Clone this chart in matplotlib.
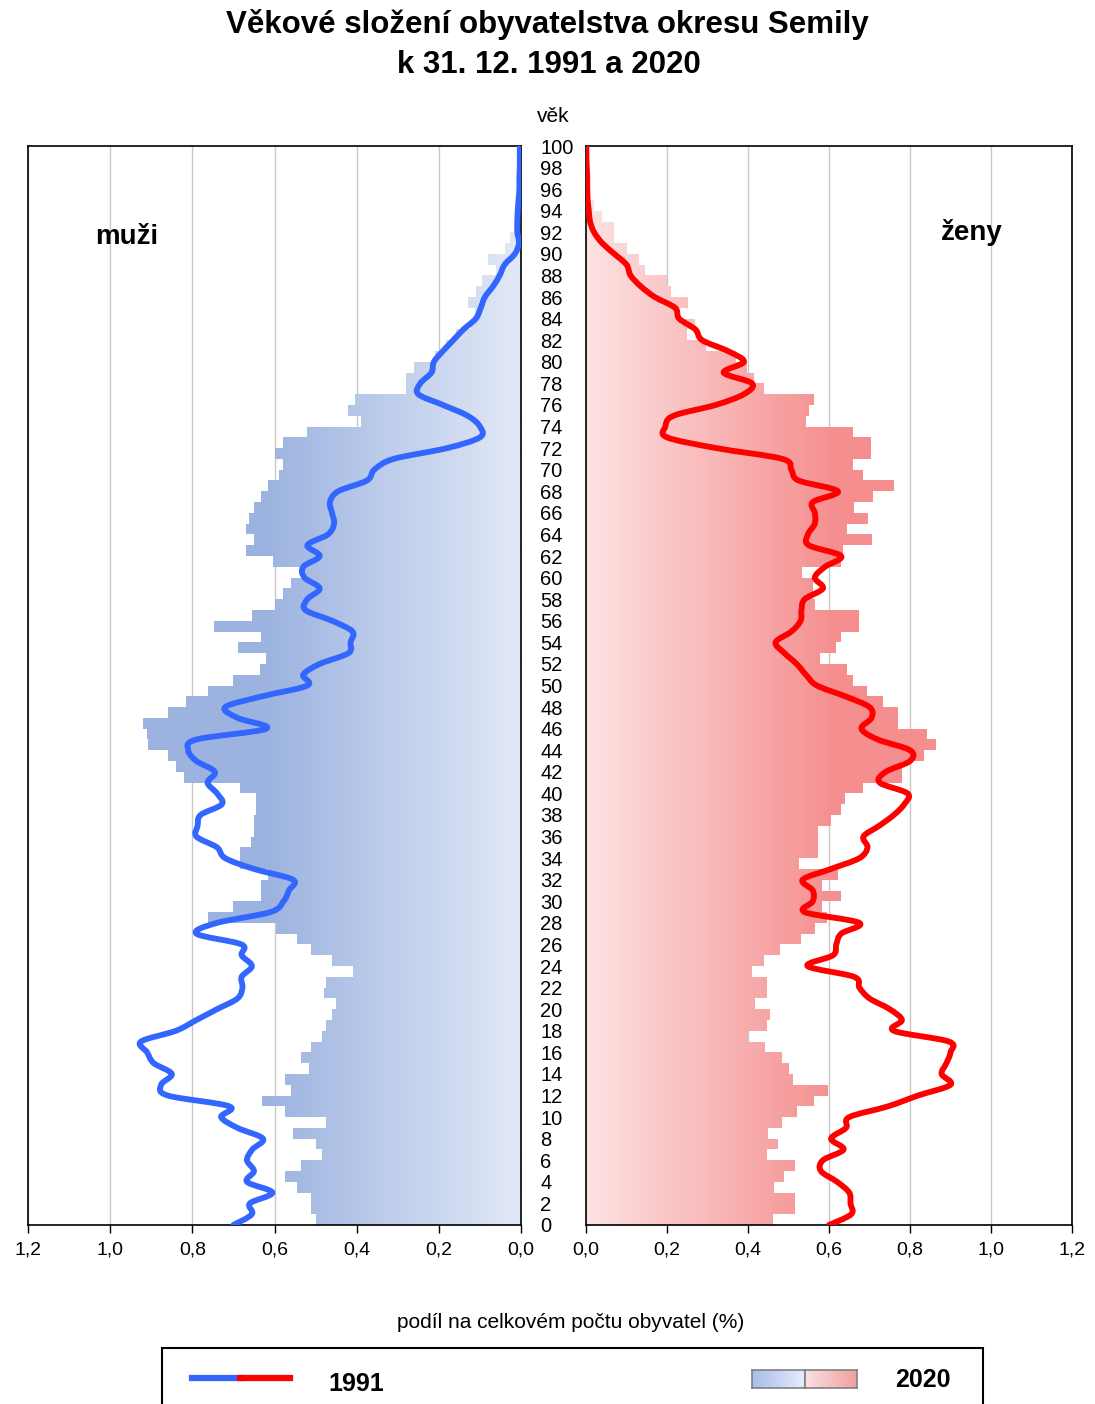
import numpy as np
import matplotlib
matplotlib.use("Agg")
import matplotlib.pyplot as plt
from matplotlib.path import Path
from matplotlib.patches import PathPatch, Rectangle
from matplotlib.colors import LinearSegmentedColormap
from matplotlib.lines import Line2D

plt.rcParams['font.family'] = ['Liberation Sans', 'DejaVu Sans']

# vek 0-99 (sloupec zabira interval [a, a+1]), krivka 1991 v bodech 0-100
ages_bar = list(range(100))
ages_line = list(range(101))

# 2020 - podil na celkovem poctu obyvatel (%)
muzi_2020 = [0.50, 0.51, 0.51, 0.545, 0.575, 0.535, 0.485, 0.50, 0.555, 0.475,
             0.575, 0.63, 0.56, 0.575, 0.515, 0.535, 0.51, 0.485, 0.475, 0.46,
             0.45, 0.48, 0.475, 0.41, 0.46, 0.51, 0.545, 0.597, 0.763, 0.70,
             0.632, 0.632, 0.615, 0.684, 0.684, 0.658, 0.65, 0.65, 0.645, 0.645,
             0.684, 0.82, 0.84, 0.86, 0.907, 0.91, 0.92, 0.86, 0.815, 0.763,
             0.70, 0.636, 0.62, 0.69, 0.632, 0.747, 0.654, 0.60, 0.58, 0.56,
             0.53, 0.604, 0.67, 0.65, 0.67, 0.663, 0.65, 0.632, 0.615, 0.59,
             0.58, 0.60, 0.58, 0.52, 0.39, 0.42, 0.405, 0.28, 0.28, 0.26,
             0.21, 0.183, 0.157, 0.122, 0.113, 0.128, 0.11, 0.096, 0.06, 0.08,
             0.04, 0.026, 0.013, 0.01, 0.008, 0.006, 0.005, 0.004, 0.003, 0.002]

zeny_2020 = [0.462, 0.515, 0.515, 0.465, 0.49, 0.515, 0.446, 0.474, 0.45, 0.485,
             0.52, 0.562, 0.598, 0.51, 0.50, 0.485, 0.441, 0.40, 0.446, 0.455,
             0.417, 0.446, 0.446, 0.41, 0.44, 0.48, 0.53, 0.565, 0.596, 0.582,
             0.63, 0.582, 0.622, 0.525, 0.574, 0.574, 0.574, 0.605, 0.63, 0.64,
             0.684, 0.78, 0.78, 0.834, 0.865, 0.843, 0.77, 0.77, 0.733, 0.693,
             0.66, 0.644, 0.578, 0.618, 0.63, 0.673, 0.673, 0.565, 0.56, 0.56,
             0.534, 0.63, 0.635, 0.706, 0.644, 0.697, 0.662, 0.709, 0.76, 0.684,
             0.66, 0.703, 0.703, 0.66, 0.543, 0.55, 0.562, 0.44, 0.415, 0.397,
             0.37, 0.296, 0.25, 0.27, 0.23, 0.253, 0.21, 0.20, 0.146, 0.13,
             0.10, 0.07, 0.07, 0.04, 0.02, 0.012, 0.008, 0.005, 0.003, 0.002]

# 1991
muzi_1991 = [0.70, 0.655, 0.66, 0.605, 0.667, 0.65, 0.667, 0.654, 0.628, 0.69,
             0.73, 0.71, 0.86, 0.876, 0.85, 0.894, 0.91, 0.925, 0.84, 0.79,
             0.74, 0.69, 0.678, 0.68, 0.655, 0.68, 0.68, 0.79, 0.74, 0.61,
             0.578, 0.565, 0.555, 0.65, 0.72, 0.74, 0.79, 0.787, 0.78, 0.728,
             0.74, 0.763, 0.745, 0.79, 0.81, 0.79, 0.62, 0.69, 0.72, 0.63,
             0.52, 0.53, 0.49, 0.42, 0.415, 0.41, 0.46, 0.525, 0.52, 0.49,
             0.527, 0.53, 0.49, 0.52, 0.47, 0.455, 0.46, 0.465, 0.445, 0.375,
             0.357, 0.31, 0.18, 0.10, 0.10, 0.13, 0.19, 0.25, 0.245, 0.218,
             0.212, 0.19, 0.165, 0.14, 0.11, 0.098, 0.088, 0.068, 0.052, 0.04,
             0.015, 0.005, 0.009, 0.009, 0.008, 0.006, 0.004, 0.004, 0.003, 0.003,
             0.003]

zeny_1991 = [0.60, 0.655, 0.653, 0.65, 0.62, 0.58, 0.585, 0.636, 0.605, 0.642,
             0.65, 0.746, 0.82, 0.90, 0.878, 0.89, 0.90, 0.896, 0.76, 0.78,
             0.75, 0.70, 0.675, 0.662, 0.547, 0.61, 0.618, 0.63, 0.675, 0.54,
             0.56, 0.56, 0.535, 0.605, 0.675, 0.695, 0.685, 0.724, 0.76, 0.786,
             0.794, 0.725, 0.74, 0.80, 0.80, 0.72, 0.68, 0.705, 0.70, 0.64,
             0.57, 0.543, 0.52, 0.49, 0.468, 0.507, 0.53, 0.532, 0.54, 0.585,
             0.565, 0.59, 0.63, 0.55, 0.548, 0.565, 0.565, 0.56, 0.622, 0.525,
             0.507, 0.485, 0.322, 0.20, 0.196, 0.216, 0.32, 0.39, 0.41, 0.34,
             0.39, 0.35, 0.287, 0.27, 0.23, 0.22, 0.17, 0.135, 0.11, 0.10,
             0.07, 0.04, 0.02, 0.01, 0.007, 0.004, 0.003, 0.003, 0.002, 0.001,
             0.001]

x_ticks = [0.0, 0.2, 0.4, 0.6, 0.8, 1.0, 1.2]
x_tick_labels = ["0,0", "0,2", "0,4", "0,6", "0,8", "1,0", "1,2"]
age_ticks = list(range(0, 101, 2))

W, H = 1095, 1404
fig = plt.figure(figsize=(W / 100, H / 100), dpi=100)


def px_box(x0, y0, x1, y1):
    # pixelove souradnice (od leveho horniho rohu) -> rect pro add_axes
    return [x0 / W, 1 - y1 / H, (x1 - x0) / W, (y1 - y0) / H]


def gradient_bars(ax, values, c_light, c_dark):
    # sloupce s vodorovnym prechodem barvy: obrazek orezany tvarem sloupcu
    bars = ax.barh(ages_bar, values, height=1.0, align='edge',
                   color='none', edgecolor='none')
    paths = [b.get_path().transformed(b.get_patch_transform()) for b in bars]
    clip = PathPatch(Path.make_compound_path(*paths), transform=ax.transData,
                     facecolor='none', edgecolor='none')
    ax.add_patch(clip)
    cmap = LinearSegmentedColormap.from_list('g', [c_light, c_dark])
    xs = np.linspace(0, 1.2, 400)
    grad = np.clip(xs / 0.62, 0, 1).reshape(1, -1)
    im = ax.imshow(grad, extent=[0, 1.2, 0, 100], aspect='auto', cmap=cmap,
                   origin='lower', zorder=1, interpolation='bilinear')
    im.set_clip_path(clip)


def smooth_line(ax, xv, yv, color):
    # vyhlazena krivka jako v Excelu (Catmull-Rom -> kubicke Bezierovy useky)
    p = np.column_stack([xv, yv]).astype(float)
    p = np.vstack([p[0], p, p[-1]])
    verts = [p[1]]
    codes = [Path.MOVETO]
    for i in range(1, len(p) - 2):
        c1 = p[i] + (p[i + 1] - p[i - 1]) / 6.0
        c2 = p[i + 1] - (p[i + 2] - p[i]) / 6.0
        verts += [c1, c2, p[i + 1]]
        codes += [Path.CURVE4] * 3
    ax.add_patch(PathPatch(Path(verts, codes), facecolor='none', edgecolor=color,
                           lw=4.2, zorder=3, capstyle='round', joinstyle='round'))


ax_m = fig.add_axes(px_box(28, 146, 521, 1225))
ax_z = fig.add_axes(px_box(586, 146, 1072, 1225))

gradient_bars(ax_m, muzi_2020, '#e2e9f6', '#9cb3e0')
gradient_bars(ax_z, zeny_2020, '#fde2e2', '#f58e8e')

smooth_line(ax_m, muzi_1991, ages_line, '#3366ff')
smooth_line(ax_z, zeny_1991, ages_line, '#ff0000')

for ax in (ax_m, ax_z):
    ax.set_ylim(0, 100)
    ax.set_xticks(x_ticks)
    ax.set_xticklabels(x_tick_labels)
    ax.tick_params(axis='x', direction='out', length=6, width=1,
                   labelsize=14, pad=6)
    ax.grid(axis='x', color='#c8c8c8', lw=1)
    ax.set_axisbelow(True)
    for s in ax.spines.values():
        s.set_linewidth(1.2)
        s.set_color('black')

ax_m.set_xlim(1.2, 0)
ax_z.set_xlim(0, 1.2)

# popisky veku mezi obema polovinami
ax_m.yaxis.tick_right()
ax_m.set_yticks(age_ticks)
ax_m.set_yticklabels([str(a) for a in age_ticks])
ax_m.tick_params(axis='y', length=0, pad=14, labelsize=14.5)
ax_z.set_yticks([])

# texty
fig.text(547 / W, 1 - 24 / H, "Věkové složení obyvatelstva okresu Semily",
         ha='center', va='center', fontsize=22.5, fontweight='bold')
fig.text(549 / W, 1 - 65 / H, "k 31. 12. 1991 a 2020",
         ha='center', va='center', fontsize=22.5, fontweight='bold')
fig.text(553 / W, 1 - 117 / H, "věk", ha='center', va='center', fontsize=15)
fig.text(127 / W, 1 - 237 / H, "muži", ha='center', va='center',
         fontsize=20, fontweight='bold')
fig.text(972 / W, 1 - 233 / H, "ženy", ha='center', va='center',
         fontsize=20, fontweight='bold')
fig.text(571 / W, 1 - 1322 / H, "podíl na celkovém počtu obyvatel (%)",
         ha='center', va='center', fontsize=15)

# legenda
fig.patches.append(Rectangle((162 / W, 1 - 1430 / H), (983 - 162) / W, 82 / H,
                             transform=fig.transFigure, fill=False,
                             edgecolor='black', lw=1.5))
fig.lines.append(Line2D([192 / W, 240 / W], [1 - 1378 / H] * 2,
                        transform=fig.transFigure, color='#3366ff', lw=4.5))
fig.lines.append(Line2D([240 / W, 290 / W], [1 - 1378 / H] * 2,
                        transform=fig.transFigure, color='#ff0000', lw=4.5))
fig.text(328 / W, 1 - 1384 / H, "1991", ha='left', va='center',
         fontsize=18, fontweight='bold')
fig.text(895 / W, 1 - 1380 / H, "2020", ha='left', va='center',
         fontsize=18, fontweight='bold')

sw = np.linspace(0, 1, 100).reshape(1, -1)
ax_sb = fig.add_axes(px_box(752, 1370, 805, 1388))
ax_sb.imshow(sw, aspect='auto',
             cmap=LinearSegmentedColormap.from_list('b', ['#a9bdea', '#e6ecf9']))
ax_sr = fig.add_axes(px_box(805, 1370, 857, 1388))
ax_sr.imshow(sw, aspect='auto',
             cmap=LinearSegmentedColormap.from_list('r', ['#fbe0e0', '#f0a0a0']))
for ax in (ax_sb, ax_sr):
    ax.set_xticks([])
    ax.set_yticks([])
    for s in ax.spines.values():
        s.set_color('#808080')
        s.set_linewidth(1.2)

fig.savefig("out.png", dpi=100)
